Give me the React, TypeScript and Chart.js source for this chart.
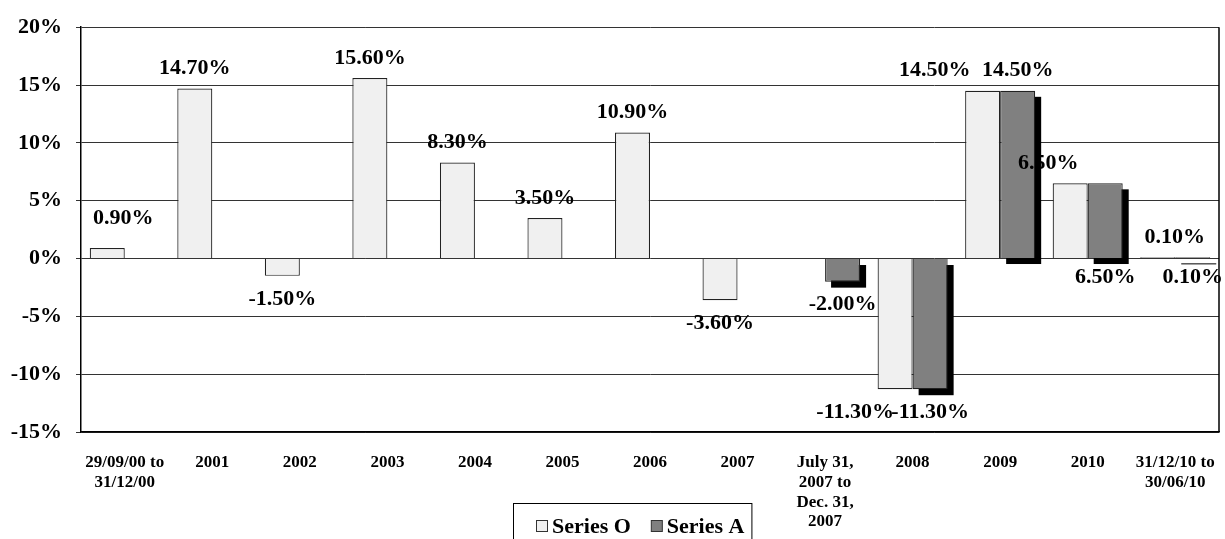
import React, { useEffect, useRef } from 'react';
import { Chart, registerables } from 'chart.js';

Chart.register(...registerables);

const categories: (string | string[])[] = [
  ['29/09/00 to', '31/12/00'],
  '2001', '2002', '2003', '2004', '2005', '2006', '2007',
  ['July 31,', '2007 to', 'Dec. 31,', '2007'],
  '2008', '2009', '2010',
  ['31/12/10 to', '30/06/10'],
];
const seriesO: (number | null)[] = [0.9, 14.7, -1.5, 15.6, 8.3, 3.5, 10.9, -3.6, null, -11.3, 14.5, 6.5, 0.1];
const seriesA: (number | null)[] = [null, null, null, null, null, null, null, null, -2.0, -11.3, 14.5, 6.5, 0.1];
const yMin = -15;
const yMax = 20;
const yStep = 5;

const FONT = '"Liberation Serif", "Times New Roman", serif';

// label placement tweaks (style only)
const labelNudgeO: Record<number, [number, number]> = { 0: [16, -10], 9: [-40, 0], 10: [-48, 0], 11: [-22, 0], 12: [17, 0] };
const aLabelsAtBase = [11, 12];

const shadowPlugin = {
  id: 'barShadow',
  beforeDatasetDraw(chart: any, args: any) {
    if (args.index !== 1) return;
    const ctx = chart.ctx;
    ctx.save();
    ctx.fillStyle = '#000';
    args.meta.data.forEach((bar: any, i: number) => {
      const v = chart.data.datasets[1].data[i];
      if (v == null) return;
      const { x, y, base, width } = bar.getProps(['x', 'y', 'base', 'width'], true);
      const top = Math.min(y, base);
      const h = Math.max(Math.abs(base - y), 1);
      ctx.fillRect(x - width / 2 + 6, top + 6, width, h);
    });
    ctx.restore();
  },
};

const labelPlugin = {
  id: 'valueLabels',
  afterDatasetsDraw(chart: any) {
    const ctx = chart.ctx;
    ctx.save();
    ctx.font = `bold 22px ${FONT}`;
    ctx.fillStyle = '#000';
    ctx.textAlign = 'center';
    ctx.textBaseline = 'middle';
    chart.data.datasets.forEach((ds: any, di: number) => {
      const meta = chart.getDatasetMeta(di);
      meta.data.forEach((bar: any, i: number) => {
        const v = ds.data[i];
        if (v == null) return;
        const { x, y, base } = bar.getProps(['x', 'y', 'base'], true);
        let ty: number;
        if (di === 1 && aLabelsAtBase.includes(i)) ty = base + 19;
        else if (v >= 0) ty = y - 20;
        else ty = y + 23;
        const n = di === 0 ? labelNudgeO[i] || [0, 0] : [0, 0];
        ctx.fillText(v.toFixed(2) + '%', x + n[0], ty + n[1]);
      });
    });
    ctx.restore();
  },
};

const frameLegendPlugin = {
  id: 'frameLegend',
  afterDraw(chart: any) {
    const ctx = chart.ctx;
    const ca = chart.chartArea;
    ctx.save();
    // right frame line
    ctx.strokeStyle = '#000';
    ctx.lineWidth = 1.5;
    ctx.beginPath();
    ctx.moveTo(ca.right, ca.top);
    ctx.lineTo(ca.right, ca.bottom);
    ctx.stroke();

    // boxed legend
    ctx.font = `bold 22px ${FONT}`;
    const items = chart.data.datasets.map((ds: any) => ({ label: ds.label, fill: ds.backgroundColor }));
    const marker = 11, gapM = 5, gapItems = 20, padL = 23, padR = 7;
    const widths = items.map((it: any) => ctx.measureText(it.label).width);
    let total = padL + padR + gapItems * (items.length - 1);
    widths.forEach((w: number) => (total += marker + gapM + w));
    const cx = chart.width / 2 + 20;
    const left = Math.round(cx - total / 2);
    const top = chart.height - 36;
    ctx.lineWidth = 1;
    ctx.strokeStyle = '#000';
    ctx.strokeRect(left + 0.5, top + 0.5, total, 80);
    let x = left + padL;
    const midY = top + 24;
    ctx.textAlign = 'left';
    ctx.textBaseline = 'middle';
    items.forEach((it: any, k: number) => {
      ctx.fillStyle = it.fill;
      ctx.fillRect(x + 0.5, midY - 6.5, marker, marker);
      ctx.strokeStyle = '#333';
      ctx.strokeRect(x + 0.5, midY - 6.5, marker, marker);
      x += marker + gapM;
      ctx.fillStyle = '#000';
      ctx.fillText(it.label, x, midY);
      x += widths[k] + gapItems;
    });
    ctx.restore();
  },
};

export default function App() {
  const ref = useRef<HTMLCanvasElement | null>(null);
  useEffect(() => {
    document.body.style.margin = '0';
    if (!ref.current) return;
    const chart = new Chart(ref.current, {
      type: 'bar',
      data: {
        labels: categories as any,
        datasets: [
          {
            label: 'Series O',
            data: seriesO,
            backgroundColor: '#f0f0f0',
            borderColor: '#222',
            borderWidth: 1.2,
            categoryPercentage: 0.8,
            barPercentage: 1.0,
          },
          {
            label: 'Series A',
            data: seriesA,
            backgroundColor: '#808080',
            borderColor: '#222',
            borderWidth: 1.2,
            categoryPercentage: 0.8,
            barPercentage: 1.0,
          },
        ],
      },
      options: {
        animation: false,
        responsive: true,
        maintainAspectRatio: false,
        layout: { padding: { top: 24, right: 6, left: 0, bottom: 0 } },
        plugins: { legend: { display: false }, tooltip: { enabled: false } },
        scales: {
          x: {
            grid: { display: false },
            border: { display: true, color: '#000', width: 1.5 },
            ticks: {
              color: '#000',
              font: { family: FONT, weight: 'bold', size: 17, lineHeight: 1.16 },
              padding: 13,
              maxRotation: 0,
              minRotation: 0,
              autoSkip: false,
            },
            afterFit: (s: any) => {
              s.height = 107;
              s.paddingLeft = 0;
              s.paddingRight = 0;
            },
          },
          y: {
            min: yMin,
            max: yMax,
            ticks: {
              stepSize: yStep,
              color: '#000',
              font: { family: FONT, weight: 'bold', size: 22 },
              padding: 14,
              callback: (v: any) => v + '%',
            },
            grid: { color: '#333', lineWidth: 1, tickLength: 5, drawTicks: true },
            border: { display: true, color: '#000', width: 1.5 },
            afterFit: (s: any) => { s.width = 81; },
          },
        },
      },
      plugins: [shadowPlugin, labelPlugin, frameLegendPlugin],
    });
    return () => chart.destroy();
  }, []);
  return (
    <div style={{ width: 1225, height: 539, position: 'relative' }}>
      <canvas ref={ref} />
    </div>
  );
}
